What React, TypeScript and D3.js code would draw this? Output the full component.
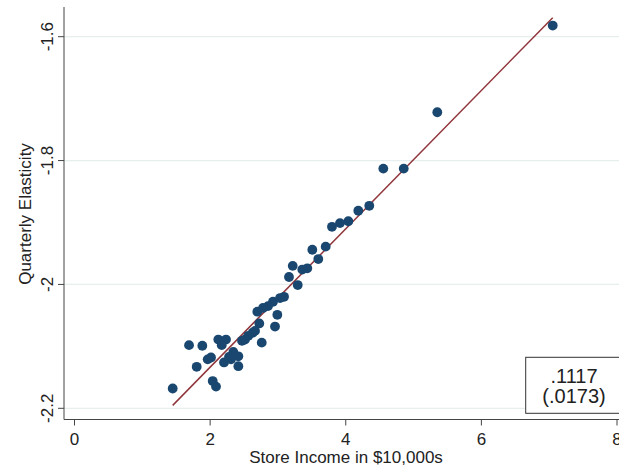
import React from "react";
import * as d3 from "d3";

const incomeX: number[] = [
  7.052, 5.35, 4.554, 4.855, 4.347, 4.185, 4.038, 3.915, 3.797, 3.704,
  3.507, 3.595, 3.433, 3.359, 3.218, 3.163, 3.292, 3.09, 3.031, 2.927,
  2.854, 2.696, 2.78, 2.991, 2.725, 2.957, 2.628, 2.563, 2.514, 2.761,
  2.121, 2.234, 2.171, 1.689, 1.885, 2.342, 2.416, 2.278, 2.205, 2.308,
  2.416, 1.964, 2.013, 1.802, 2.038, 2.087, 1.448, 2.662, 2.47,
];
const elasticityY: number[] = [
  -1.582, -1.722, -1.813, -1.813, -1.873, -1.881, -1.898, -1.901, -1.907, -1.939,
  -1.944, -1.959, -1.974, -1.976, -1.97, -1.988, -2.001, -2.02, -2.022, -2.028,
  -2.035, -2.044, -2.038, -2.049, -2.063, -2.068, -2.078, -2.083, -2.089, -2.094,
  -2.089, -2.089, -2.098, -2.098, -2.099, -2.109, -2.116, -2.117, -2.126, -2.121,
  -2.132, -2.121, -2.118, -2.133, -2.156, -2.165, -2.168, -2.075, -2.091,
];
const xTicks: number[] = [0, 2, 4, 6, 8];
const yTicks: number[] = [-1.6, -1.8, -2, -2.2];
const fitSlope = 0.1117;
const fitIntercept = -2.357;
const slopeLabel = ".1117";
const seLabel = "(.0173)";
const xTitle = "Store Income in $10,000s";
const yTitle = "Quarterly Elasticity";

const fmtY = (v: number) => (v === -2 ? "-2" : String(v));

export default function App() {
  const W = 619;
  const H = 467;
  const font = "'Liberation Sans', Arial, Helvetica, sans-serif";
  const x = d3.scaleLinear().domain([0, 8]).range([74.5, 617]);
  const y = d3.scaleLinear().domain([-1.6, -2.2]).range([36.7, 408.3]);
  const axisX = 64;
  const axisBottom = 419.5;
  const axisTop = 7;
  const points = incomeX.map((v, i) => ({ x: v, y: elasticityY[i] }));
  const [xmin, xmax] = d3.extent(incomeX) as [number, number];
  const line = d3
    .line<number>()
    .x((d) => x(d))
    .y((d) => y(fitIntercept + fitSlope * d));
  const ink = "#222";

  return (
    <svg
      width={W}
      height={H}
      style={{ position: "absolute", left: 0, top: 0, background: "#fff" }}
      fontFamily={font}
    >
      <rect x={0} y={0} width={W} height={H} fill="#fff" />
      {yTicks.map((t) => (
        <line
          key={"g" + t}
          x1={axisX}
          x2={W}
          y1={y(t)}
          y2={y(t)}
          stroke="#e6eeee"
          strokeWidth={1.3}
        />
      ))}
      <path d={line([xmin, xmax]) || ""} stroke="#90353b" strokeWidth={1.5} fill="none" />
      {points.map((p, i) => (
        <circle key={i} cx={x(p.x)} cy={y(p.y)} r={4.9} fill="#1a476f" />
      ))}
      {/* axes */}
      <line x1={axisX} x2={axisX} y1={axisTop} y2={axisBottom} stroke="#444" strokeWidth={1} />
      <line x1={axisX} x2={W} y1={axisBottom} y2={axisBottom} stroke="#444" strokeWidth={1} />
      {yTicks.map((t) => (
        <g key={"yt" + t}>
          <line x1={axisX - 6} x2={axisX} y1={y(t)} y2={y(t)} stroke="#444" />
          <text
            transform={`translate(53,${y(t)}) rotate(-90)`}
            textAnchor="middle"
            fontSize={17}
            fill={ink}
          >
            {fmtY(t)}
          </text>
        </g>
      ))}
      {xTicks.map((t) => (
        <g key={"xt" + t}>
          <line x1={x(t)} x2={x(t)} y1={axisBottom} y2={axisBottom + 6} stroke="#444" />
          <text x={x(t)} y={445} textAnchor="middle" fontSize={17} fill={ink}>
            {t}
          </text>
        </g>
      ))}
      <text x={346} y={463} textAnchor="middle" fontSize={17} fill={ink}>
        {xTitle}
      </text>
      <text
        transform={`translate(31,214) rotate(-90)`}
        textAnchor="middle"
        fontSize={17}
        fill={ink}
      >
        {yTitle}
      </text>
      {/* annotation box */}
      <rect x={525.7} y={357.3} width={130} height={56} fill="#fff" stroke="#333" strokeWidth={1} />
      <text x={574} y={383.3} textAnchor="middle" fontSize={20} fill={ink}>
        {slopeLabel}
      </text>
      <text x={574} y={403.3} textAnchor="middle" fontSize={20} fill={ink}>
        {seLabel}
      </text>
    </svg>
  );
}
